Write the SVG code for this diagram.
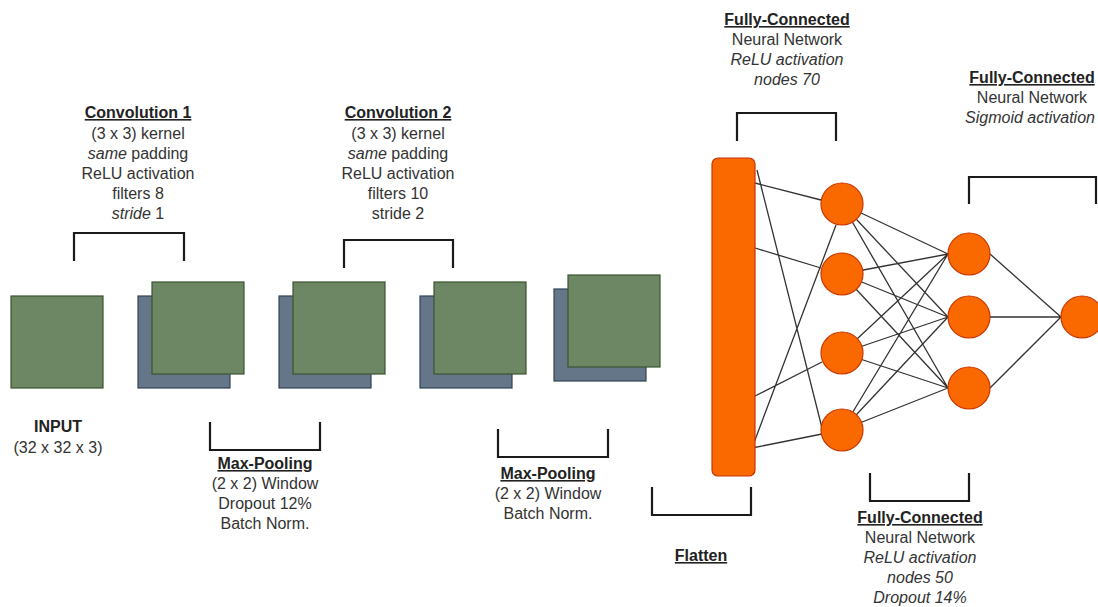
<svg xmlns="http://www.w3.org/2000/svg" width="1098" height="607" viewBox="0 0 1098 607">
<style>
.g{fill:#6d8764;stroke:#3a5431;stroke-width:1.2}
.b{fill:#647687;stroke:#314354;stroke-width:1.2}
.o{fill:#fa6800;stroke:#c73500;stroke-width:1.2}
.br{fill:none;stroke:#1a1a1a;stroke-width:2.2}
.c{stroke:#333;stroke-width:1.3;fill:none}
text{font-family:"Liberation Sans",Arial,sans-serif;font-size:16px;fill:#333;text-anchor:middle}
.t{font-weight:bold;text-decoration:underline;fill:#222}
.i{font-style:italic}
</style>
<rect width="1098" height="607" fill="#fff"/>
<g id="input">
<rect class="g" x="11" y="296" width="92" height="92"/>
<text x="58" y="432" style="font-weight:bold;fill:#222">INPUT</text>
<text x="58" y="453">(32 x 32 x 3)</text>
</g>
<g id="conv1">
<rect class="b" x="138" y="296" width="92" height="92"/>
<rect class="g" x="152" y="282" width="92" height="92"/>
<path class="br" d="M74 261V233H184V261"/>
<text class="t" x="138" y="118">Convolution 1</text>
<text x="138" y="139">(3 x 3) kernel</text>
<text x="138" y="159"><tspan class="i">same</tspan> padding</text>
<text x="138" y="179">ReLU activation</text>
<text x="138" y="199">filters 8</text>
<text x="138" y="219"><tspan class="i">stride</tspan> 1</text>
</g>
<g id="pool1">
<rect class="b" x="279" y="296" width="92" height="92"/>
<rect class="g" x="293" y="282" width="92" height="92"/>
<path class="br" d="M210 422V450H320V422"/>
<text class="t" x="265" y="469">Max-Pooling</text>
<text x="265" y="489">(2 x 2) Window</text>
<text x="265" y="509">Dropout 12%</text>
<text x="265" y="529">Batch Norm.</text>
</g>
<g id="conv2">
<rect class="b" x="420" y="296" width="92" height="92"/>
<rect class="g" x="434" y="282" width="92" height="92"/>
<path class="br" d="M344 268V240H453V268"/>
<text class="t" x="398" y="118">Convolution 2</text>
<text x="398" y="139">(3 x 3) kernel</text>
<text x="398" y="159"><tspan class="i">same</tspan> padding</text>
<text x="398" y="179">ReLU activation</text>
<text x="398" y="199">filters 10</text>
<text x="398" y="219">stride 2</text>
</g>
<g id="pool2">
<rect class="b" x="554" y="289" width="92" height="92"/>
<rect class="g" x="568" y="275" width="92" height="92"/>
<path class="br" d="M498 429V457H608V429"/>
<text class="t" x="548" y="479">Max-Pooling</text>
<text x="548" y="499">(2 x 2) Window</text>
<text x="548" y="519">Batch Norm.</text>
</g>
<g id="connectors">
<path class="c" d="M755 183L821 200M755 248L821 268M757 170L822 428M753 397L822 362M752 448L822 434M752 448L836 225"/>
<path class="c" d="M842 204L948 254M842 204L948 317M842 204L948 388M842 274L948 254M842 274L948 317M842 274L948 388M842 353L948 254M842 353L948 317M842 353L948 388M842 430L948 254M842 430L948 317M842 430L948 388"/>
<path class="c" d="M990 254L1061 317M990 317L1061 317M990 388L1061 317"/>
</g>
<g id="flatten">
<rect class="o" x="712" y="158" width="43" height="318" rx="6"/>
<path class="br" d="M652 487V515H751V487"/>
<text class="t" x="701" y="561">Flatten</text>
</g>
<g id="fc1">
<circle class="o" cx="842" cy="204" r="21"/>
<circle class="o" cx="842" cy="274" r="21"/>
<circle class="o" cx="842" cy="353" r="21"/>
<circle class="o" cx="842" cy="430" r="21"/>
<path class="br" d="M737 141V113H836V141"/>
<text class="t" x="787" y="25">Fully-Connected</text>
<text x="787" y="45">Neural Network</text>
<text class="i" x="787" y="65">ReLU activation</text>
<text class="i" x="787" y="85">nodes 70</text>
</g>
<g id="fc2">
<circle class="o" cx="969" cy="254" r="21"/>
<circle class="o" cx="969" cy="317" r="21"/>
<circle class="o" cx="969" cy="388" r="21"/>
<path class="br" d="M870 473V501H969V473"/>
<text class="t" x="920" y="523">Fully-Connected</text>
<text x="920" y="543">Neural Network</text>
<text class="i" x="920" y="563">ReLU activation</text>
<text class="i" x="920" y="583">nodes 50</text>
<text class="i" x="920" y="603">Dropout 14%</text>
</g>
<g id="fc3">
<circle class="o" cx="1082" cy="317" r="21"/>
<path class="br" d="M969 204V177H1096V204"/>
<text class="t" x="1032" y="83">Fully-Connected</text>
<text x="1032" y="103">Neural Network</text>
<text class="i" x="1030" y="123">Sigmoid activation</text>
</g>
</svg>
